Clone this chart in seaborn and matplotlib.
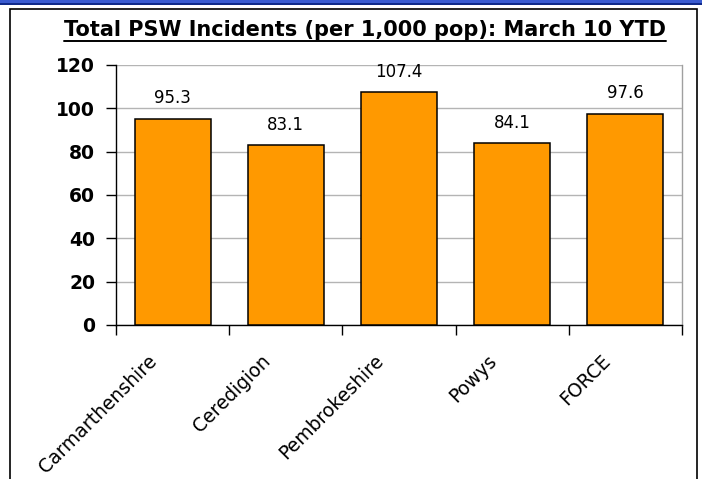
import matplotlib
matplotlib.use("Agg")
import matplotlib.pyplot as plt
import matplotlib.transforms as mtransforms
import seaborn as sns
import pandas as pd
from matplotlib.patches import Rectangle
from matplotlib.lines import Line2D

# Data
areas = ["Carmarthenshire", "Ceredigion", "Pembrokeshire", "Powys", "FORCE"]
incidents = [95.3, 83.1, 107.4, 84.1, 97.6]
y_ticks = [0, 20, 40, 60, 80, 100, 120]
title = "Total PSW Incidents (per 1,000 pop): March 10 YTD"

df = pd.DataFrame({"area": areas, "incidents": incidents})

sns.set_style("white")
plt.rcParams["font.family"] = ["DejaVu Sans"]
plt.rcParams["text.color"] = "black"
plt.rcParams["xtick.color"] = "black"
plt.rcParams["ytick.color"] = "black"

W, H = 702, 479
fig = plt.figure(figsize=(W / 100, H / 100), dpi=100)

# outer frame: blue band on top, black panel border
fig.patches.append(Rectangle((0, 1 - 4.5 / H), 1, 4.5 / H, transform=fig.transFigure,
                             facecolor="#3a5bd0", edgecolor="none", zorder=0))
fig.patches.append(Rectangle((0, 1 - 4.5 / H), 1, 1.5 / H, transform=fig.transFigure,
                             facecolor="#102a8a", edgecolor="none", zorder=0))
fig.patches.append(Rectangle((9.5 / W, -0.05), (696.5 - 9.5) / W, 1.05 - 8.5 / H,
                             transform=fig.transFigure, facecolor="none",
                             edgecolor="black", linewidth=1.2, zorder=0))

ax = fig.add_axes([116 / W, 1 - 325 / H, (682 - 116) / W, (325 - 65) / H])

sns.barplot(data=df, x="area", y="incidents", ax=ax, color="#ff9900",
            saturation=1, width=0.67, edgecolor="black", linewidth=1.1, zorder=3)

ax.set_ylim(0, 120)
ax.set_xlim(-0.5, len(areas) - 0.5)
ax.set_yticks(y_ticks)
ax.set_yticklabels([str(v) for v in y_ticks], fontweight="bold", fontsize=13.5)
ax.set_xlabel("")
ax.set_ylabel("")
ax.yaxis.grid(True, color="#b4b4b4", linewidth=1, zorder=0)
ax.set_axisbelow(True)

for s in ["left", "bottom"]:
    ax.spines[s].set_color("black")
    ax.spines[s].set_linewidth(1)
ax.spines["top"].set_visible(False)
ax.spines["right"].set_color("#a0a0a0")
ax.spines["right"].set_linewidth(1)

ax.tick_params(axis="y", direction="out", length=7, width=1, color="black", pad=8, left=True)
# category boundary tick marks
ax.set_xticks([i - 0.5 for i in range(len(areas) + 1)], minor=True)
ax.tick_params(axis="x", which="minor", direction="out", length=7, width=1, color="black", bottom=True)
ax.tick_params(axis="x", which="major", length=0, pad=19)
ax.set_xticks(range(len(areas)))
ax.set_xticklabels(areas, rotation=45, ha="right", rotation_mode="anchor", fontsize=13.5)
shift = mtransforms.ScaledTranslation(-25 / 100, 0, fig.dpi_scale_trans)
for lab in ax.get_xticklabels():
    lab.set_transform(lab.get_transform() + shift)

for i, v in enumerate(incidents):
    ax.annotate(f"{v:.1f}", (i, v), xytext=(0, 8), textcoords="offset points",
                ha="center", va="bottom", fontsize=12)

t = fig.text(365 / W, 1 - 30 / H, title, ha="center", va="center",
             fontsize=15, fontweight="bold")
fig.canvas.draw()
bb = t.get_window_extent()
uy = bb.y0 - 0.5
fig.add_artist(Line2D([bb.x0 / W, bb.x1 / W], [uy / H, uy / H], transform=fig.transFigure,
                      color="black", linewidth=1.4))

fig.savefig("out.png", dpi=100)
